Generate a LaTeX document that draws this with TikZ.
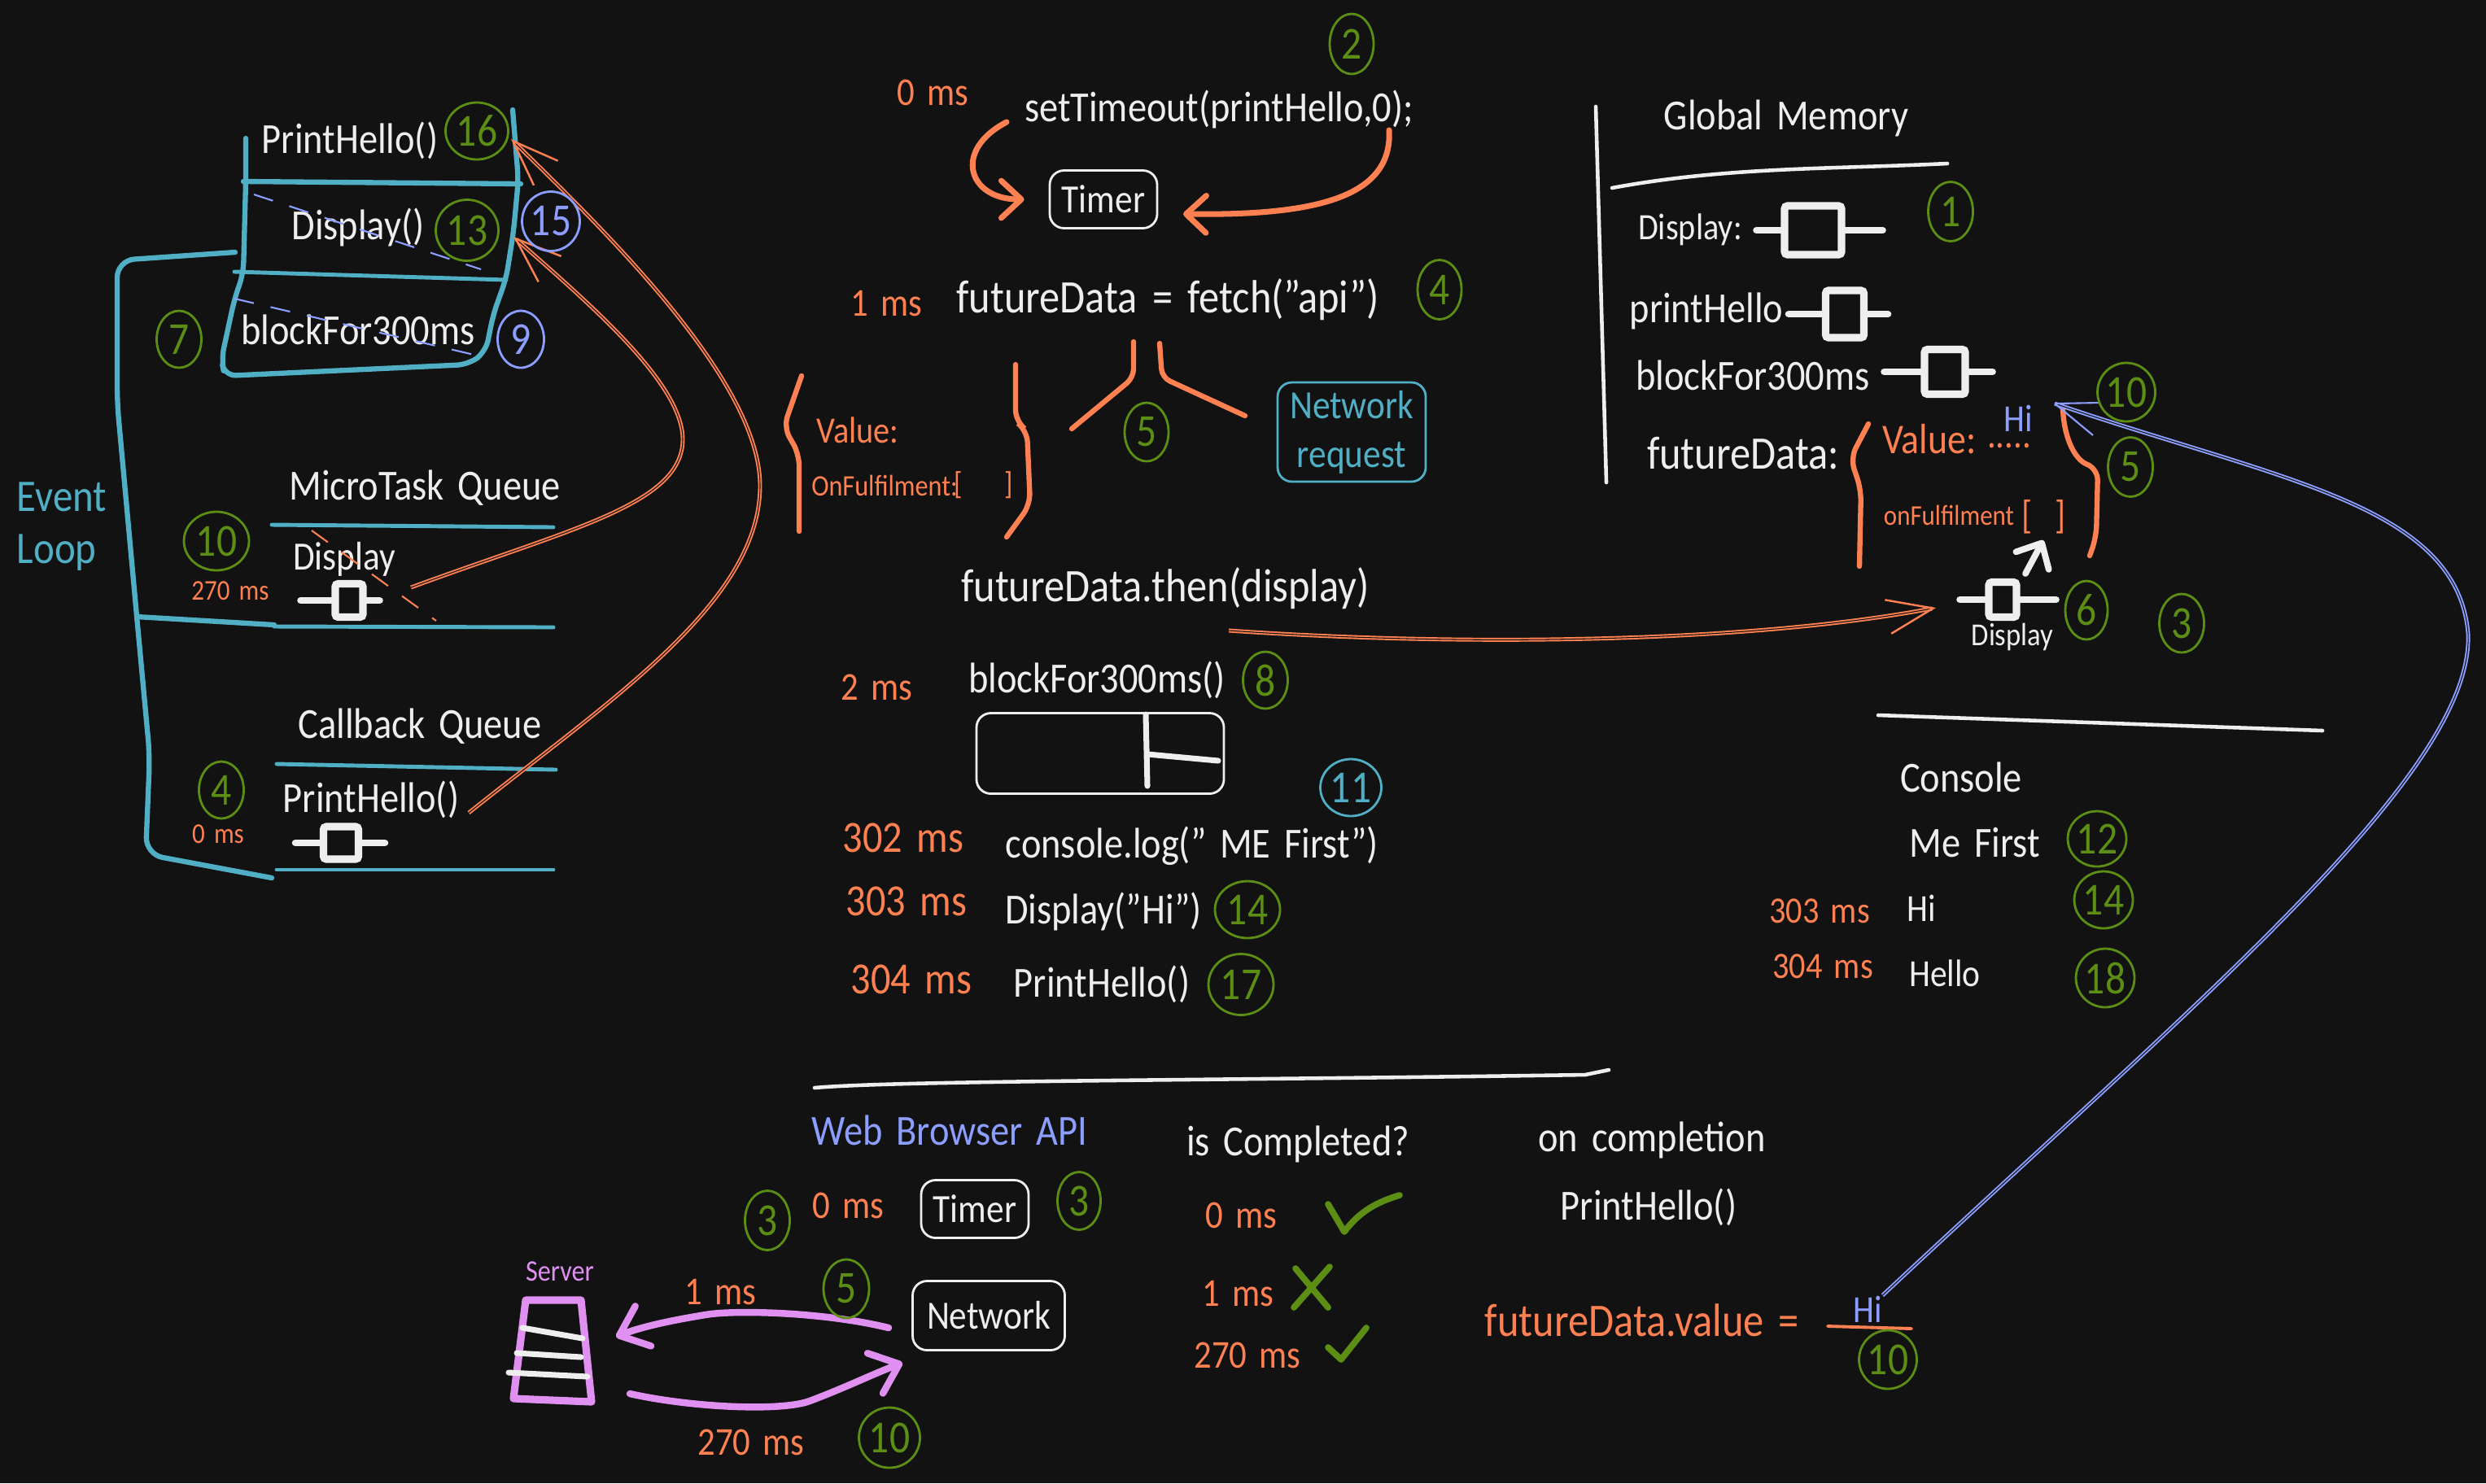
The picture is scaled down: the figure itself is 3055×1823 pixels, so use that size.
\documentclass[tikz,border=0pt]{standalone}
\usepackage{fontspec}
\setmainfont[WordSpace=1.6,FakeStretch=0.88]{Carlito}
\usepackage{tikz}
\usetikzlibrary{shapes.geometric,arrows.meta}

\definecolor{bgc}{HTML}{121212}
\definecolor{whitec}{HTML}{EEEEEE}
\definecolor{orangec}{HTML}{FF8050}
\definecolor{cyanc}{HTML}{50AFC4}
\definecolor{greenc}{HTML}{5B8E12}
\definecolor{bluec}{HTML}{8C9EFF}
\definecolor{pinkc}{HTML}{E090F0}

\tikzset{
  txt/.style={text=whitec, inner sep=0pt, font=\fontsize{15}{17}\selectfont},
  widetxt/.style={txt, font=\fontsize{16.3}{18}\selectfont},
  boxtxt/.style={txt, font=\fontsize{14}{15}\selectfont},
  smalltxt/.style={txt, font=\fontsize{13.4}{15}\selectfont},
  ms/.style={txt, text=orangec, font=\fontsize{13.8}{16}\selectfont},
  bigms/.style={txt, text=orangec, font=\fontsize{15.6}{17}\selectfont},
  smallms/.style={txt, text=orangec, font=\fontsize{10}{12}\selectfont},
  stepnum/.style={ellipse, draw=greenc, text=greenc, line width=0.8pt, inner sep=0pt, font=\fontsize{16}{18}\selectfont},
  bluenum/.style={stepnum, draw=bluec, text=bluec},
  cyannum/.style={stepnum, draw=cyanc, text=cyanc},
  box/.style={draw=whitec, rounded corners=5pt, line width=0.8pt, inner sep=0pt},
  funcbox/.style={draw=whitec, line width=2.6pt, rounded corners=1pt, inner sep=0pt},
  funcstub/.style={draw=whitec, line width=2.4pt, line cap=round},
  stackline/.style={draw=cyanc, line width=1.8pt, line cap=round, line join=round},
  queueline/.style={stackline, line width=1.4pt},
  rule/.style={draw=whitec, line width=1.3pt, line cap=round},
  brace/.style={draw=orangec, line width=1.8pt, line cap=round, rounded corners=4pt},
  strike/.style={dashed, dash pattern=on 7pt off 6pt, line width=0.6pt},
  bigarrow/.style={line width=2pt, line cap=round, -{Straight Barb[round,length=7pt,width=13pt]}},
  pinkarrow/.style={draw=pinkc, line width=2.4pt, line cap=round, -{Straight Barb[round,length=9pt,width=15pt]}},
  wirearrow/.style={draw=orangec, line width=0.55pt, double=bgc, double distance=0.3pt,
    -{Straight Barb[length=16pt,width=12pt,line width=0.7pt]}},
  bluewire/.style={draw=bluec, line width=0.55pt, double=bgc, double distance=0.3pt},
  checkline/.style={draw=greenc, line width=2.2pt, line cap=round, line join=round},
}

\begin{document}
\begin{tikzpicture}[x=0.01cm, y=-0.01cm]
  \fill[bgc] (0,0) rectangle (3055,1823);
  \useasboundingbox (0,0) rectangle (3055,1823);

  % Call stack
  \node[txt] (stackHello) at (430,173) {PrintHello()};
  \node[txt] (stackDisplay) at (440,279) {Display()};
  \node[txt] (stackBlock) at (440,405) {blockFor300ms};
  \draw[stackline, rounded corners=4pt] (302,170) -- (302,224) -- (299,336) -- (288,368) -- (272,442) -- (276,462)
    -- (576,448) -- (597,432) -- (606,387) -- (622,342) -- (631,285) -- (637,221) -- (630,135);
  \draw[stackline] (299,223) -- (640,226);
  \draw[queueline] (288,334) -- (622,344);
  \draw[strike, bluec] (312,239) -- (591,331);
  \draw[strike, bluec] (288,367) -- (591,438);

  % Event loop
  \node[txt, text=cyanc, align=left, anchor=west, font=\fontsize{15.8}{17}\selectfont] (loopLabel) at (20,647) {Event\\[1pt]Loop};
  \draw[stackline, rounded corners=6pt] (289,310) -- (144,320) -- (144,495) -- (168,757) -- (184,929) -- (179,1050) -- (334,1079);
  \draw[stackline] (168,758) -- (337,768);

  % MicroTask queue
  \node[txt] (microLabel) at (522,600) {MicroTask Queue};
  \node[smalltxt, font=\fontsize{14}{16}\selectfont] (microDisplay) at (423,687) {Display};
  \node[smallms] (micro270) at (283,726) {270 ms};
  \draw[queueline] (334,645) -- (680,648);
  \draw[queueline] (337,770) -- (680,771);
  \draw[strike, orangec] (383,652) -- (536,763);

  % Callback queue
  \node[txt] (callbackLabel) at (516,893) {Callback Queue};
  \node[txt] (callbackHello) at (456,983) {PrintHello()};
  \node[smallms] (callback0) at (268,1025) {0 ms};
  \draw[queueline] (340,939) -- (683,946);
  \draw[queueline] (340,1069) -- (680,1069);

  % Function icons
  \foreach \n/\x/\y/\w/\h/\sl/\sr in {microIcon/429/738/34/41/38/16, callbackIcon/419/1036/43/40/30/28,
      displayIcon/2228/283/70/60/30/46, helloIcon/2267/386/47/58/41/25,
      blockIcon/2390/457/50/55/45/29, laterIcon/2461/737/34/43/31/44} {
    \node[funcbox, minimum width=\w*0.01cm, minimum height=\h*0.01cm] (\n) at (\x,\y) {};
    \draw[funcstub] (\n.west) -- ++(-\sl,0);
    \draw[funcstub] (\n.east) -- ++(\sr,0);
  }

  % Code lines
  \node[txt] (setTimeoutLine) at (1498,134) {setTimeout(printHello,0);};
  \node[box, boxtxt, draw=whitec, minimum width=132*0.01cm, minimum height=71*0.01cm] (timerBox) at (1356,245) {Timer};
  \node[widetxt] (fetchLine) at (1435,368) {futureData = fetch("api")};
  \node[widetxt] (thenLine) at (1432,723) {futureData.then(display)};
  \node[txt] (blockLine) at (1348,836) {blockFor300ms()};
  \node[txt] (consoleLine) at (1465,1040) {console.log(" ME First")};
  \node[txt] (displayLine) at (1356,1120) {Display("Hi")};
  \node[txt] (helloLine) at (1354,1210) {PrintHello()};
  \node[ms] (t0) at (1146,114) {0 ms};
  \node[ms] (t1) at (1089,373) {1 ms};
  \node[ms] (t2) at (1077,845) {2 ms};
  \node[bigms] (t302) at (1110,1030) {302 ms};
  \node[bigms] (t303) at (1114,1108) {303 ms};
  \node[bigms] (t304) at (1120,1204) {304 ms};

  % Arrows into the timer
  \coordinate (timerFromL) at (1237,150);
  \coordinate (timerFromR) at (1707,160);
  \coordinate (timerToR) at (1454,263);
  \draw[bigarrow, orangec] (timerFromL) .. controls (1170,185) and (1190,245) .. ([xshift=-0.3cm]timerBox.west);
  \draw[bigarrow, orangec] (timerFromR) .. controls (1712,245) and (1610,265) .. (timerToR);

  % Promise object and the network branch
  \node[ms, font=\fontsize{13}{15}\selectfont] (valueLabel) at (1054,529) {Value:};
  \node[smallms, font=\fontsize{10.4}{13}\selectfont] (fulfilLabel) at (1087,597) {OnFulfilment:};
  \node[smallms, font=\fontsize{11}{13}\selectfont] (fulfilOpen) at (1178,596) {[};
  \node[smallms, font=\fontsize{11}{13}\selectfont] (fulfilClose) at (1240,596) {]};
  \draw[brace] (985,462) -- (963,525) -- (982,558) -- (982,653);
  \draw[brace] (1248,448) -- (1248,518) -- (1262,529) -- (1266,620) -- (1237,660);
  \draw[brace, rounded corners=3pt] (1393,420) -- (1393,464) -- (1317,527);
  \draw[brace, rounded corners=3pt] (1425,422) -- (1428,464) -- (1530,511);
  \node[box, boxtxt, draw=cyanc, text=cyanc, align=center, minimum width=182*0.01cm, minimum height=122*0.01cm] (requestBox) at (1661,531) {Network\\[2pt]request};

  % Progress bar of the blocking call
  \node[box, minimum width=304*0.01cm, minimum height=99*0.01cm] (barBox) at (1352,926) {};
  \coordinate (barTop) at (1408,878);
  \coordinate (barLow) at (1410,966);
  \coordinate (barMid) at (1410,927);
  \coordinate (barEnd) at (1497,935);
  \draw[funcstub, line width=2pt] (barTop) -- (barLow);
  \draw[funcstub, line width=2pt] (barMid) -- (barEnd);

  % Global memory
  \node[txt] (memoryLabel) at (2195,145) {Global Memory};
  \node[smalltxt, font=\fontsize{13}{15}\selectfont] (memDisplay) at (2077,282) {Display:};
  \node[txt] (memHello) at (2097,382) {printHello};
  \node[txt] (memBlock) at (2154,461) {blockFor300ms};
  \node[widetxt] (memFuture) at (2142,557) {futureData:};
  \node[ms, font=\fontsize{14.8}{16}\selectfont] (memValue) at (2371,540) {Value:};
  \node[ms] (memDots) at (2469,548) {.....};
  \node[smalltxt, text=bluec] (memHi) at (2480,514) {Hi};
  \node[smallms] (memFulfil) at (2395,633) {onFulfilment};
  \node[ms] (memOpen) at (2491,635) {[};
  \node[ms] (memClose) at (2532,635) {]};
  \node[smalltxt, font=\fontsize{11.2}{13}\selectfont] (laterLabel) at (2473,783) {Display};
  \draw[rule] (1961,131) -- (1974,593);
  \draw[rule] (1981,231) .. controls (2121,205) and (2250,208) .. (2393,201);
  \draw[brace] (2296,521) -- (2274,563) -- (2287,602) -- (2285,696);
  \draw[brace] (2535,504) .. controls (2537,540) and (2550,565) .. (2578,576) -- (2576,660) -- (2568,683);

  % Arrow up into onFulfilment
  \coordinate (upFrom) at (2489,705);
  \coordinate (upTo) at (2511,664);
  \draw[bigarrow, whitec, line width=2.2pt] (upFrom) -- (upTo);

  % Arrows to the stack and to memory
  \coordinate (microOut) at (505,722);
  \coordinate (callbackOut) at (576,999);
  \coordinate (stackInA) at (631,291);
  \coordinate (stackInB) at (628,171);
  \coordinate (thenOut) at (1510,775);
  \coordinate (laterIn) at (2379,747);
  \draw[wirearrow] (microOut) .. controls (700,650) and (839,620) .. (839,540) .. controls (839,470) and (720,370) .. (stackInA);
  \draw[wirearrow] (callbackOut) .. controls (750,860) and (934,740) .. (934,597) .. controls (934,470) and (750,290) .. (stackInB);
  \draw[wirearrow] (thenOut) .. controls (1800,795) and (2150,790) .. (laterIn);

  % Console
  \node[txt] (consoleLabel) at (2410,955) {Console};
  \node[txt] (consoleFirst) at (2427,1036) {Me First};
  \node[smalltxt] (consoleHi) at (2361,1116) {Hi};
  \node[smalltxt] (consoleHello) at (2390,1196) {Hello};
  \node[smallms, font=\fontsize{13}{15}\selectfont] (c303) at (2236,1120) {303 ms};
  \node[smallms, font=\fontsize{13}{15}\selectfont] (c304) at (2240,1188) {304 ms};
  \draw[rule] (2308,879) -- (2854,898);

  % Web browser part
  \draw[rule] (1001,1337) .. controls (1103,1328) and (1500,1328) .. (1948,1321) -- (1977,1315);
  \node[txt, text=bluec] (webLabel) at (1167,1389) {Web Browser API};
  \node[ms] (web0) at (1042,1482) {0 ms};
  \node[box, boxtxt, draw=whitec, minimum width=132*0.01cm, minimum height=71*0.01cm] (webTimer) at (1198,1486) {Timer};
  \node[box, boxtxt, draw=whitec, minimum width=187*0.01cm, minimum height=85*0.01cm] (webNetwork) at (1215,1617) {Network};
  \node[txt] (doneLabel) at (1595,1406) {is Completed?};
  \node[ms] (done0) at (1525,1494) {0 ms};
  \node[ms] (done1) at (1521,1590) {1 ms};
  \node[ms] (done270) at (1533,1666) {270 ms};
  \node[txt] (onDone) at (2030,1401) {on completion};
  \node[txt] (onDoneHello) at (2026,1484) {PrintHello()};
  \node[widetxt, text=orangec] (futureValue) at (2018,1623) {futureData.value =};
  \node[smalltxt, text=bluec] (valueHi) at (2295,1609) {Hi};
  \draw[brace, line width=1.1pt] (2246,1630) -- (2349,1633);

  % Ticks and cross
  \draw[checkline] (1632,1480) -- (1652,1514) .. controls (1670,1490) and (1690,1478) .. (1720,1469);
  \draw[checkline] (1592,1559) -- (1632,1607);
  \draw[checkline] (1634,1557) -- (1590,1607);
  \draw[checkline] (1632,1656) -- (1648,1671) -- (1679,1632);

  % Server
  \node[smallms, text=pinkc, font=\fontsize{10.4}{12}\selectfont] (serverLabel) at (688,1563) {Server};
  \draw[draw=pinkc, line width=2.6pt, line join=round] (646,1598) -- (714,1598) -- (727,1723) -- (631,1719) -- cycle;
  \draw[funcstub, line width=2pt] (642,1632) -- (716,1645);
  \draw[funcstub, line width=2pt] (635,1663) -- (714,1668);
  \draw[funcstub, line width=2pt] (625,1687) -- (722,1692);
  \coordinate (serverIn) at (757,1643);
  \coordinate (serverOut) at (774,1713);
  \coordinate (networkOut) at (1092,1632);
  \coordinate (networkIn) at (1109,1675);
  \draw[pinkarrow] (networkOut) .. controls (1010,1612) and (900,1610) .. (867,1616) .. controls (830,1622) and (790,1630) .. (serverIn);
  \draw[pinkarrow] (serverOut) .. controls (850,1730) and (960,1735) .. (995,1722) .. controls (1040,1705) and (1070,1690) .. (networkIn);
  \node[ms] (server1) at (885,1588) {1 ms};
  \node[ms] (server270) at (923,1773) {270 ms};

  % Long blue arrow for the value
  \coordinate (memIn) at (2525,496);
  \draw[bluewire] (valueHi.north east) .. controls (2700,1230) and (3040,950) .. (3033,779) .. controls (3020,620) and (2800,590) .. (memIn);
  \draw[draw=bluec, line width=0.6pt] (memIn) -- (2572,535);
  \draw[draw=bluec, line width=0.6pt] (memIn) -- (2581,495);

  % Step numbers
  \foreach \n/\t/\x/\y/\w/\h in {s16/16/586/161/77/70, s13/13/574/283/77/75, s7/7/220/417/55/70,
      s10a/10/266/665/80/72, s4a/4/272/971/55/70, s2/2/1661/54/54/74, s4b/4/1769/356/54/73,
      s5a/5/1409/531/54/72, s8/8/1555/836/55/70, s14a/14/1533/1118/80/70, s17/17/1525/1210/80/75,
      s1/1/2397/260/55/73, s10b/10/2613/482/63/72, s5b/5/2618/574/55/73, s6/6/2564/750/52/72,
      s3a/3/2681/766/55/72, s12/12/2577/1031/72/68, s14b/14/2585/1106/72/70, s18/18/2587/1202/72/72,
      s3b/3/943/1500/55/73, s3c/3/1326/1476/53/71, s5c/5/1040/1584/56/72, s10c/10/1093/1767/75/74,
      s10d/10/2320/1671/58/72} {
    \node[stepnum, minimum width=\w*0.01cm, minimum height=\h*0.01cm] (\n) at (\x,\y) {\t};
  }
  \node[bluenum, minimum width=67*0.01cm, minimum height=73*0.01cm] (s15) at (677,272) {15};
  \node[bluenum, minimum width=57*0.01cm, minimum height=70*0.01cm] (s9) at (640,417) {9};
  \node[cyannum, minimum width=75*0.01cm, minimum height=70*0.01cm] (s11) at (1660,968) {11};
\end{tikzpicture}
\end{document}
